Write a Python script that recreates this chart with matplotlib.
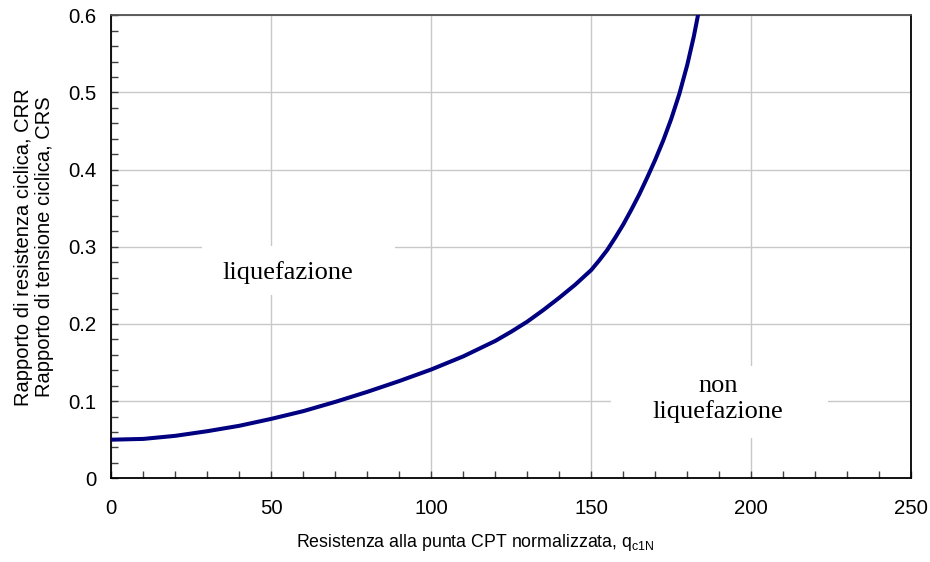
import numpy as np
import matplotlib.pyplot as plt
from matplotlib.patches import Rectangle
from matplotlib.ticker import MultipleLocator

# curve
qc1n = [0, 10, 20, 30, 40, 50, 60, 70, 80, 90, 100, 110, 120, 125, 130, 135,
        140, 145, 150, 152.5, 155, 157.5, 160, 162.5, 165, 167.5, 170, 172.5,
        175, 177.5, 180, 182, 184]
crr = [0.050, 0.051, 0.055, 0.061, 0.068, 0.077, 0.087, 0.099, 0.112, 0.126,
       0.141, 0.158, 0.178, 0.190, 0.203, 0.218, 0.234, 0.251, 0.270, 0.2825,
       0.296, 0.312, 0.329, 0.348, 0.368, 0.390, 0.413, 0.438, 0.466, 0.498,
       0.536, 0.572, 0.614]

xticks = [0, 50, 100, 150, 200, 250]
yticks = [0, 0.1, 0.2, 0.3, 0.4, 0.5, 0.6]
yticklabels = ['0', '0.1', '0.2', '0.3', '0.4', '0.5', '0.6']

plt.rcParams['font.family'] = ['Liberation Sans', 'DejaVu Sans']
plt.rcParams['mathtext.fontset'] = 'custom'
plt.rcParams['mathtext.rm'] = 'Liberation Sans'

fig = plt.figure(figsize=(9.3, 5.62), dpi=100)
ax = fig.add_axes([0.1197, 0.149, 0.8602, 0.8238])

ax.plot(qc1n, crr, color='#000080', lw=2.9, zorder=3, solid_joinstyle='round')

ax.set_xlim(0, 250)
ax.set_ylim(0, 0.6)
ax.set_xticks(xticks)
ax.set_yticks(yticks)
ax.set_yticklabels(yticklabels)
ax.xaxis.set_minor_locator(MultipleLocator(10))
ax.yaxis.set_minor_locator(MultipleLocator(0.02))
ax.tick_params(which='both', direction='in', length=5, width=1, color='#404040')
ax.tick_params(axis='x', which='major', labelsize=14.7, pad=15)
ax.tick_params(axis='y', which='major', labelsize=14.7, pad=11)

ax.set_axisbelow(True)
ax.grid(True, which='major', color='#c8c8c8', lw=1)
for s in ax.spines.values():
    s.set_linewidth(1.3)
ax.spines['top'].set_color('#505050')

# white boxes behind the region labels
ax.add_patch(Rectangle((0.113, 0.396), 0.242, 0.106, transform=ax.transAxes,
                       facecolor='white', edgecolor='none', zorder=1))
ax.add_patch(Rectangle((0.625, 0.087), 0.271, 0.156, transform=ax.transAxes,
                       facecolor='white', edgecolor='none', zorder=1))
ax.text(0.221, 0.444, 'liquefazione', transform=ax.transAxes,
        ha='center', va='center', fontsize=19, family='Liberation Serif', zorder=2)
ax.text(0.758, 0.171, 'non\nliquefazione', transform=ax.transAxes,
        ha='center', va='center', fontsize=19, family='Liberation Serif',
        linespacing=1.2, zorder=2)

ax.set_xlabel('Resistenza alla punta CPT normalizzata, q$_{\\mathregular{c1N}}$', fontsize=12.8)
ax.xaxis.set_label_coords(0.455, -0.115)
ax.set_ylabel('Rapporto di resistenza ciclica, CRR\nRapporto di tensione ciclica, CRS',
              fontsize=14.5, linespacing=1.1)
ax.yaxis.set_label_coords(-0.072, 0.5)

fig.savefig('out.png', dpi=100)
